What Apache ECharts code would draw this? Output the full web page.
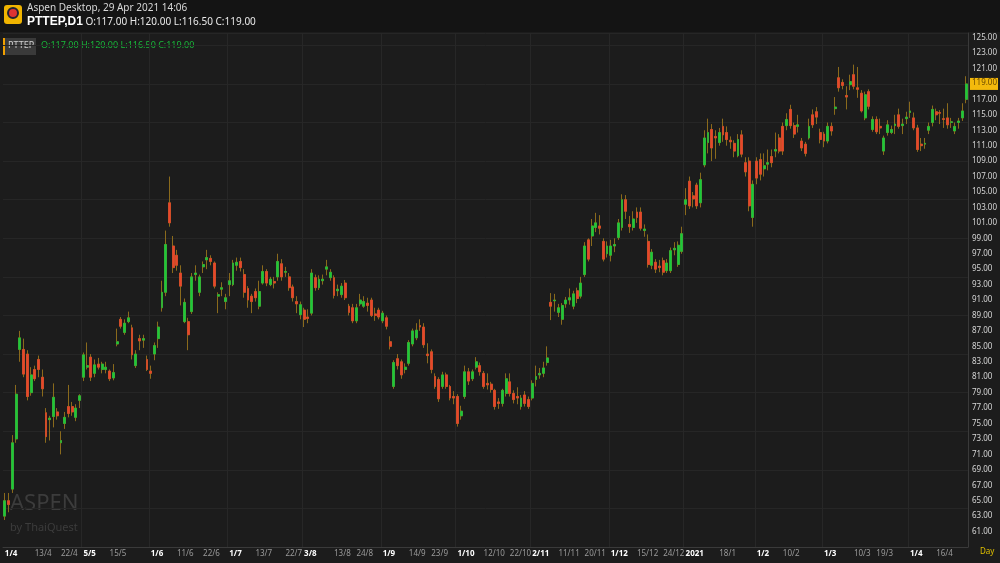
<!DOCTYPE html>
<html><head><meta charset="utf-8">
<script src="https://cdn.jsdelivr.net/npm/echarts@6/dist/echarts.min.js"></script>
<style>html,body{margin:0;padding:0;background:#1c1c1c}#c{width:1000px;height:563px}</style>
</head><body><div id="c"></div>
<script>
// [open, close, low, high]
const candles = [
[63,65,62.5,66],[65,64.5,63.5,66],[66.5,72.5,66,73.5],[73,78.8,72.5,80],[84.6,86.1,83,87],
[84.6,81.4,81,86],[84,78.5,78,84.5],[79,81.3,78.6,82.3],[82,80.8,80.5,82.5],[83.3,82,81,83.8],
[81,79.5,78.5,82],[76.4,73.3,72.5,77],[75.5,75.7,72.8,76],[75.9,78.4,74.5,80.2],[76.5,76,75.5,77],
[72.5,72.8,71,74],[75,75.8,74.3,76.5],[77.2,76.3,75.8,80],[77.2,76.5,76,77.8],[75.8,77,75.3,77.5],
[78,78.6,77,78.8],[81,83.9,80.5,84.2],[82.3,82.5,82,85.5],[83.6,81,80.5,84],[81.5,82.6,81,83.3],
[82.7,82.3,82,83.5],[82,82.7,81.5,83],[82,82.3,81.5,83],[81.8,80.8,80.5,82],[80.9,81.6,80.6,82.7],
[85.3,85.6,85,87.3],[88.5,87.6,87.3,88.8],[86.8,88,86.5,88.5],[88.2,88.7,88,89.5],[87.4,83.9,83.3,87.8],
[82.5,84,82.2,84.5],[86,85.7,84.5,86.5],[85.8,86,84.8,86.5],[83.3,82,81.8,83.8],[81.8,81.5,80.8,82.5],
[84,85.1,83.2,85.5],[86,87.5,84.8,88.2],[90,92,89.5,93.5],[92,98.2,91.5,100],[103.6,101,100.5,107],
[98,95.2,94.5,99.3],[96.8,95.5,94.8,97.5],[94.5,92.8,90.3,95.5],[88.2,90.7,88,91.2],[88.2,86.5,84.5,88.7],
[89.5,94,89.2,94.5],[94.3,94.5,93.5,95.5],[92,94,91.5,94.3],[95.3,95.6,94.5,96],[96.2,96.5,95,97.5],
[96.4,96,95.5,96.8],[95.8,92.8,92.5,96],[91.5,91.7,89.3,92],[92.4,92.6,91.5,93.3],[90.8,91.3,89.8,91.8],
[93,93.5,91.5,94.5],[93,95.8,92.8,96.2],[95.5,95.9,94.8,96.5],[96,95.2,94.7,96.5],[94.3,92,91.3,95],
[92.5,91,90,92.8],[91.5,90.8,89.3,91.8],[92.1,91.3,90.8,92.5],[90.2,92.1,89.8,93.5],[93.2,94.7,93,95.5],
[94.7,93.2,92.8,95],[93,93.7,92.8,94],[93.4,93.2,92.5,94],[94,96,93.5,97],[95.7,94,93.5,96.3],
[94.6,94.7,94,95.3],[94,92.6,92.2,94.5],[92.7,91.3,90.8,93],[90.8,90.5,89.3,91.5],[89.1,90.4,88.5,90.8],
[89.7,88.5,87.5,90],[88.8,88.6,88,89.8],[89.3,94.5,89,95],[93.9,92.6,92.2,94.3],[92.6,93.7,92.3,94.2],
[93.5,93.7,93,94.3],[95,95.3,94.2,96.2],[93.9,94.6,93.5,95],[93.9,91.6,91.2,94.2],[92.2,92.4,91.5,93],
[91.7,92.8,91.3,93.2],[93.2,91.3,91,93.6],[90.2,89.4,89,90.5],[90,88.3,88,90.5],[88.3,90,88,90.5],
[90.5,91,90.2,91.8],[90.2,90.8,90,91.5],[90.6,90.3,89.5,91.3],[91,89,88.8,91.3],[89.2,89,88.3,90],
[89.7,88.8,88.5,90],[88.3,89.3,88,89.6],[88.7,87.6,87.2,89],[85.6,85,84.6,86.3],[79.8,82.9,79.5,83.2],
[83.4,82.5,82,84],[83,81.3,80.8,83.3],[82,82.3,81.5,82.8],[82.8,85.5,82.5,85.8],[85.3,87,85,87.3],
[86.1,87.1,85.8,88],[87.7,87.5,87,88.5],[87.5,85.2,84.8,88],[84,83.8,82.8,85.4],[84.3,82,81.5,84.6],
[81.1,79.8,79.5,81.5],[80.7,78.2,77.8,81],[79.8,81.3,79.5,81.7],[81.3,79.8,79.5,81.6],[79.8,78.3,78,80],
[78.5,78.3,77.5,79.2],[78.5,75,74.6,78.8],[76,76.6,75.5,77.3],[78.5,81.7,78.2,82.5],[81.7,80.5,80,82.2],
[80.8,81.7,80.5,82],[82.3,83,82,83.6],[82.5,81.7,81.2,82.9],[81.5,79.8,79.5,81.8],[80.2,80,79.4,81.5],
[80.1,79.4,79,80.4],[79.3,77.2,76.8,79.5],[77.8,77.6,76.9,78.3],[77.6,79.3,77.2,79.5],[78.9,80.8,78.5,81.5],
[80.4,78.9,78.5,81.5],[78.9,78.1,77.6,79.3],[78.5,78.3,77.5,79.7],[77.2,78.3,76.8,78.7],[78.7,77.6,77.2,79.2],
[78.1,77.2,76.9,78.5],[78.3,80.2,78,80.6],[80.7,81.1,79.8,82.5],[81.3,81.5,80.8,82.2],[81.5,82.2,81,83],
[82.9,83.5,82.5,85],[90.7,90.2,88.4,91.9],[90.9,91,89.5,91.8],[89.4,90,88.8,90.5],[88.5,90.3,87.8,90.6],
[90.5,91,90,91.4],[91,91.3,90.4,92.5],[90.2,91.8,89.8,92.2],[92.2,91.2,90.6,92.6],[91.5,93.2,91.2,94],
[94.3,98,94,98.5],[98.8,96.3,96,99],[99.3,100.6,98,101.5],[100.4,101,99.8,102.3],[100.6,100.3,99.5,102],
[98.6,96.3,96,99],[97,98,96.5,98.6],[96.8,98,96,98.8],[98,98.2,97.2,99],[99.1,101,98.8,101.5],
[100.4,104,100,104.7],[104,102.5,101.5,104.6],[100.8,100.5,99.7,101.9],[100.4,101.5,100,102.5],[102.4,101.7,101,103],
[102.4,100.3,100,103],[100,100.2,99.2,100.8],[98.6,95.6,95.2,99.5],[95.5,97.2,95,97.6],[95.9,95,94.5,96.3],
[95.4,95.2,94.6,96.2],[96.1,94.6,94.2,96.5],[94.8,95.8,94.5,96.3],[94.8,97.4,94.5,97.8],[97.5,97.7,96.8,98.5],
[95.6,98.1,95.3,98.6],[97.3,99.6,97,100.5],[103.4,104,102,105.5],[106.4,103.2,102.8,107],[104.5,104.1,103,105],
[105.9,103.2,102.8,106.2],[103.6,106.6,103,107.5],[108.5,112,108.2,113],[111.4,112.7,110,114.5],[113.1,110.7,109,113.8],
[112.2,112,109.3,113],[111.4,112.7,111,113.3],[113.5,112.4,111.5,114.5],[112.7,111.8,111,113.5],[111.7,111.5,110.6,112.2],
[111.3,110.3,109.5,111.7],[109.7,111.8,109.5,112.5],[112.4,109.9,109.5,113],[108.8,107.6,107,109.5],[109,103.2,102.5,109.5],
[101.7,106,100.5,106.5],[109,106.8,106,109.5],[109.2,107.3,106.5,110],[108,108.4,107,110],[108.6,108.8,107.8,110.5],
[109.6,108.8,108.2,110.5],[110.3,110.5,109.5,112.7],[112,110.3,110,112.5],[113.5,110.3,109.8,114],[113.6,114.4,113,115.2],
[115.7,113.6,113.2,116.3],[113.6,112.5,112,114],[113.5,113.7,112.7,115],[111.6,110.7,110.3,112],[111.2,110,109.6,111.5],
[112,113.5,111.8,114.5],[115,113.7,113.3,115.7],[115.4,114.7,113.8,116],[112.7,111.8,111.3,113.2],[112.5,111.6,110.8,112.8],
[111.6,113.5,111.3,114],[113.5,112.9,112.3,114],[115.8,116,115,117.3],[119.8,118.5,118,121.2],[119.2,118.8,118.3,119.6],
[117.5,117.3,115.7,118.7],[118.9,119.3,118.2,120.2],[120.2,118.7,118.3,121.5],[118.5,118.3,117.2,121.2],[117.8,115.5,115.3,118.2],
[114.6,117.6,114.3,118],[118,116.1,115.7,118.3],[113.1,114.4,112.8,114.8],[114.4,112.8,112.5,114.8],[113.5,113.3,112.5,114.5],
[110.3,112,109.8,112.3],[112.7,113.7,112.3,114.3],[112.7,113.1,112.5,113.6],[113.6,113.8,112.5,115],[115,113.5,113.2,115.8],
[113.6,113.8,112.5,114.5],[114.5,114.7,113.8,115.4],[115.3,115.5,114.6,116.7],[114.6,113.3,113,115.3],[113.3,110.5,110.2,113.7],
[111.2,111,110.3,112],[111.2,111.3,110.6,112],[113,113.5,112.5,114],[114,115.7,113.5,116.2],[115.4,115,114.3,115.8],
[115.3,115.2,113.8,115.6],[114.5,114.4,113.3,115.8],[114.6,113.7,113.2,116.5],[114,114.1,113.3,114.6],[112.9,113.5,112.5,114],
[114,114.2,113.2,114.6],[114.6,115.5,114.2,116.5],[117,119,116.5,120]
];
const tickIdx = [0,8,15,21,28,39,46,53,60,67,75,80,88,94,101,108,114,121,128,135,141,148,155,162,169,176,182,191,201,208,219,227,233,242,249];
const tickText = ['1/4','13/4','22/4','5/5','15/5','1/6','11/6','22/6','1/7','13/7','22/7','3/8','13/8','24/8','1/9','14/9','23/9','1/10','12/10','22/10','2/11','11/11','20/11','1/12','15/12','24/12','2021','18/1','1/2','10/2','1/3','10/3','19/3','1/4','16/4'];
const boldTicks = ['5/5','1/6','1/7','3/8','1/9','1/10','2/11','1/12','2021','1/2','1/3','1/4'];
const lastClose = 119;

const cats = candles.map((_, i) => String(i));
const labelMap = {};
tickIdx.forEach((k, j) => labelMap[k] = tickText[j]);
const boldIdx = new Set(tickIdx.filter((k, j) => boldTicks.includes(tickText[j]) || j === 0));
const wickData = candles.map(d => [d[0], d[1], d[2], d[3]]);
const bodyData = candles.map(d => [d[0], d[1], Math.min(d[0], d[1]), Math.max(d[0], d[1])]);

const chart = echarts.init(document.getElementById('c'));
const yCommon = {type:'value', min:59, max:125.6, position:'right', scale:true};
const baseGraphic = [
    {type:'rect', shape:{x:0,y:0,width:1000,height:32}, style:{fill:'#141414'}},
    {type:'rect', shape:{x:4,y:5,width:18,height:19,r:3}, style:{fill:'#f0b400'}},
    {type:'circle', shape:{cx:13,cy:13,r:5}, style:{fill:'#d33', stroke:'#223', lineWidth:2}},
    {type:'text', left:27, top:3, style:{text:'Aspen Desktop, 29 Apr 2021 14:06', fill:'#d8d8d8', font:'10px "Noto Sans"'}},
    {type:'text', left:27, top:16, style:{text:'{b|PTTEP,D1} O:117.00 H:120.00 L:116.50 C:119.00', fill:'#e8e8e8', font:'10px "Noto Sans"', rich:{b:{fontWeight:'bold', fill:'#ffffff', font:'bold 10px "Noto Sans"'}}}},
    {type:'rect', shape:{x:3,y:38,width:2,height:17}, style:{fill:'#f0a000'}},
    {type:'rect', shape:{x:5,y:38,width:31,height:17}, style:{fill:'#3a3a3a'}},
    {type:'text', left:8, top:41, style:{text:'PTTEP', fill:'#cfcfcf', font:'9px "Noto Sans"'}},
    {type:'text', left:41, top:41, style:{text:'O:117.00 H:120.00 L:116.50 C:119.00', fill:'#19b83a', font:'9px "Noto Sans"'}},
    {type:'text', left:10, top:493, style:{text:'ASPEN', fill:'#3c3c3c', font:'22px "Noto Sans"'}},
    {type:'text', left:10, top:522, style:{text:'by ThaiQuest', fill:'#3c3c3c', font:'11px "Noto Sans"'}},
    {type:'text', left:980, top:548, style:{text:'Day', fill:'#e0c000', font:'8px "Noto Sans"'}}
];
chart.setOption({
  backgroundColor:'#1c1c1c',
  animation:false,
  grid:{left:3, right:32, top:33, bottom:16},
  xAxis:{type:'category', data:cats, boundaryGap:true,
    axisLine:{lineStyle:{color:'#3a3a3a'}}, axisTick:{show:false},
    axisLabel:{interval:(i)=>labelMap[i]!==undefined, formatter:(v)=>{const t=labelMap[+v]; return boldIdx.has(+v)?'{b|'+t+'}':t;},
      color:'#9a9a9a', fontSize:8, fontFamily:'Noto Sans', margin:3, align:'left',
      rich:{b:{color:'#ffffff', fontWeight:'bold', fontSize:8, fontFamily:'Noto Sans'}}},
    splitLine:{show:true, interval:(i)=>boldIdx.has(i) && i>0, lineStyle:{color:'#272727'}}
  },
  yAxis:[
    Object.assign({}, yCommon, {interval:2,
      axisLine:{show:true, lineStyle:{color:'#3a3a3a'}}, axisTick:{show:false},
      axisLabel:{showMinLabel:false, formatter:(v)=>v.toFixed(2), color:'#d5d5d5', fontSize:8, fontFamily:'Noto Sans', margin:4},
      splitLine:{show:false}}),
    Object.assign({}, yCommon, {interval:5, axisLine:{show:false}, axisLabel:{show:false}, axisTick:{show:false},
      splitLine:{show:true, lineStyle:{color:'#262626'}}})
  ],
  series:[
    {type:'candlestick', data:wickData, barWidth:2.4,
      itemStyle:{color:'#8a6a1c', color0:'#8a6a1c', borderColor:'#8a6a1c', borderColor0:'#8a6a1c', borderWidth:1}},
    {type:'candlestick', data:bodyData, barWidth:2.4,
      itemStyle:{color:'#19c93c', color0:'#e8452c', borderColor:'#19c93c', borderColor0:'#e8452c', borderWidth:0.5}}
  ],
  graphic:baseGraphic
});
const py = chart.convertToPixel({yAxisIndex:0}, lastClose);
chart.setOption({graphic: baseGraphic.concat([
  {type:'rect', shape:{x:970, y:py-6, width:28, height:12}, style:{fill:'#f3b90c'}, z:100},
  {type:'text', x:972, y:py-5, style:{text:lastClose.toFixed(2), fill:'#6a4a00', font:'8px "Noto Sans"'}, z:101}
])});
</script></body></html>
